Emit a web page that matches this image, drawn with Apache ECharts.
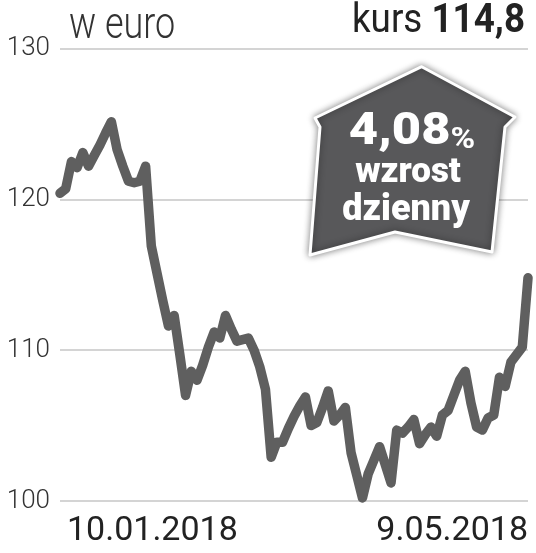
<!DOCTYPE html>
<html><head><meta charset="utf-8">
<script src="https://cdn.jsdelivr.net/npm/echarts@6/dist/echarts.min.js"></script>
<style>html,body{margin:0;padding:0;background:#fff}#c{width:536px;height:553px}</style>
</head><body><div id="c"></div>
<script>
// ---- data ----
const startDate = '2018-01-10';
const endDate = '2018-05-09';
const holidays = ['2018-03-30', '2018-04-02', '2018-05-01'];
const prices = [
  120.4, 120.7, 122.5, 122.1, 123.1, 122.2, 122.9, 123.6, 124.4, 125.15,
  123.3, 122.2, 121.2, 121.1, 121.2, 122.2, 116.9, 115.1, 113.3, 111.6,
  112.3, 109.7, 107.0, 108.6, 108.0, 109.0, 110.2, 111.2, 110.8, 112.3,
  111.4, 110.6, 110.7, 110.8, 110.0, 108.9, 107.4, 102.9, 103.9, 103.9,
  104.8, 105.6, 106.3, 106.9, 105.0, 105.2, 106.2, 107.3, 105.3, 105.7,
  106.2, 103.2, 101.7, 100.2, 101.8, 102.7, 103.6, 102.4, 101.2, 104.7,
  104.5, 104.9, 105.4, 103.8, 104.4, 104.9, 104.3, 105.7, 106.0, 107.0,
  108.0, 108.6, 106.5, 104.9, 104.7, 105.5, 105.7, 108.2, 107.6, 109.2,
  109.7, 110.2, 114.8
];
const yTicks = [100, 110, 120, 130];
const unitLabel = 'w euro';
const priceLabel = 'kurs';
const lastPrice = '114,8';
const changeValue = '4,08';
const changeLines = ['wzrost', 'dzienny'];

// trading-day categories
const categories = [];
(function () {
  let d = new Date(startDate + 'T00:00:00Z');
  const end = new Date(endDate + 'T00:00:00Z');
  while (d <= end) {
    const iso = d.toISOString().slice(0, 10);
    const wd = d.getUTCDay();
    if (wd !== 0 && wd !== 6 && holidays.indexOf(iso) < 0) {
      const dd = d.getUTCDate();
      const mm = String(d.getUTCMonth() + 1).padStart(2, '0');
      categories.push(dd + '.' + mm + '.' + d.getUTCFullYear());
    }
    d = new Date(d.getTime() + 86400000);
  }
})();
const lastIdx = categories.length - 1;

const chart = echarts.init(document.getElementById('c'), null, {renderer: 'canvas'});
const arrowFill = '#58585a';
chart.setOption({
  animation: false,
  backgroundColor: '#fff',
  grid: {left: 60, right: 8, top: 48.5, bottom: 52, containLabel: false},
  xAxis: {
    type: 'category',
    data: categories,
    boundaryGap: false,
    axisLine: {show: false},
    axisTick: {show: false},
    splitLine: {show: false},
    axisLabel: {
      interval: function (i) { return i === 0 || i === lastIdx; },
      showMinLabel: true, showMaxLabel: true,
      alignMinLabel: 'left', alignMaxLabel: 'right',
      margin: 13,
      fontFamily: 'Roboto', fontSize: 34, color: '#222',
      formatter: function (v, i) { return i === 0 ? '{a|' + v + '}' : '{b|' + v + '}'; },
      rich: {
        a: {fontFamily: 'Roboto', fontSize: 34, color: '#222', padding: [0, 0, 0, 7]},
        b: {fontFamily: 'Roboto', fontSize: 34, color: '#222', padding: [0, 0, 0, 0]}
      }
    }
  },
  yAxis: {
    type: 'value',
    min: yTicks[0], max: yTicks[yTicks.length - 1], interval: 10,
    axisLine: {show: false}, axisTick: {show: false},
    splitLine: {lineStyle: {color: '#c6c6c6', width: 1.5}},
    axisLabel: {fontFamily: 'Roboto', fontWeight: 300, fontSize: 26, color: '#333', margin: 10}
  },
  series: [{
    type: 'line',
    data: prices,
    symbol: 'none',
    lineStyle: {color: '#5f5f5f', width: 9.5, cap: 'round', join: 'round'},
    z: 3
  }],
  graphic: [
    {type: 'text', x: 69, y: 27, scaleX: 0.8, z: 10,
     style: {text: unitLabel, fontFamily: 'Roboto', fontWeight: 300, fontSize: 45, fill: '#333', align: 'left', verticalAlign: 'middle'}},
    {type: 'text', x: 525, y: 22, scaleX: 0.92, z: 10,
     style: {text: '{a|' + priceLabel + ' }{b|' + lastPrice + '}', align: 'right', verticalAlign: 'middle',
       rich: {a: {fontFamily: 'Roboto', fontWeight: 400, fontSize: 40, fill: '#222'},
              b: {fontFamily: 'Roboto', fontWeight: 700, fontSize: 40, fill: '#222'}}}},
    {type: 'polygon', z: 20,
     shape: {points: [[421.7, 66.7], [515, 117], [505, 127], [492, 252], [395, 232], [310, 255], [320, 127], [315, 118]]},
     style: {fill: arrowFill, stroke: '#fff', lineWidth: 3, lineJoin: 'round', shadowBlur: 7, shadowColor: 'rgba(0,0,0,0.45)'}},
    {type: 'text', x: 412, y: 133, scaleX: 1.15, z: 21,
     style: {text: '{a|' + changeValue + '}{b|%}', align: 'center', verticalAlign: 'middle',
       rich: {a: {fontFamily: 'Roboto', fontWeight: 900, fontSize: 44, fill: '#fff', verticalAlign: 'bottom', lineHeight: 44},
              b: {fontFamily: 'Roboto', fontWeight: 700, fontSize: 29, fill: '#fff', verticalAlign: 'bottom', lineHeight: 44}}}},
    {type: 'text', x: 408, y: 173, z: 21,
     style: {text: changeLines[0], fontFamily: 'Roboto', fontWeight: 900, fontSize: 35, fill: '#fff', align: 'center', verticalAlign: 'middle'}},
    {type: 'text', x: 406, y: 211, z: 21,
     style: {text: changeLines[1], fontFamily: 'Roboto', fontWeight: 900, fontSize: 36, fill: '#fff', align: 'center', verticalAlign: 'middle'}}
  ]
});
</script>
</body></html>
